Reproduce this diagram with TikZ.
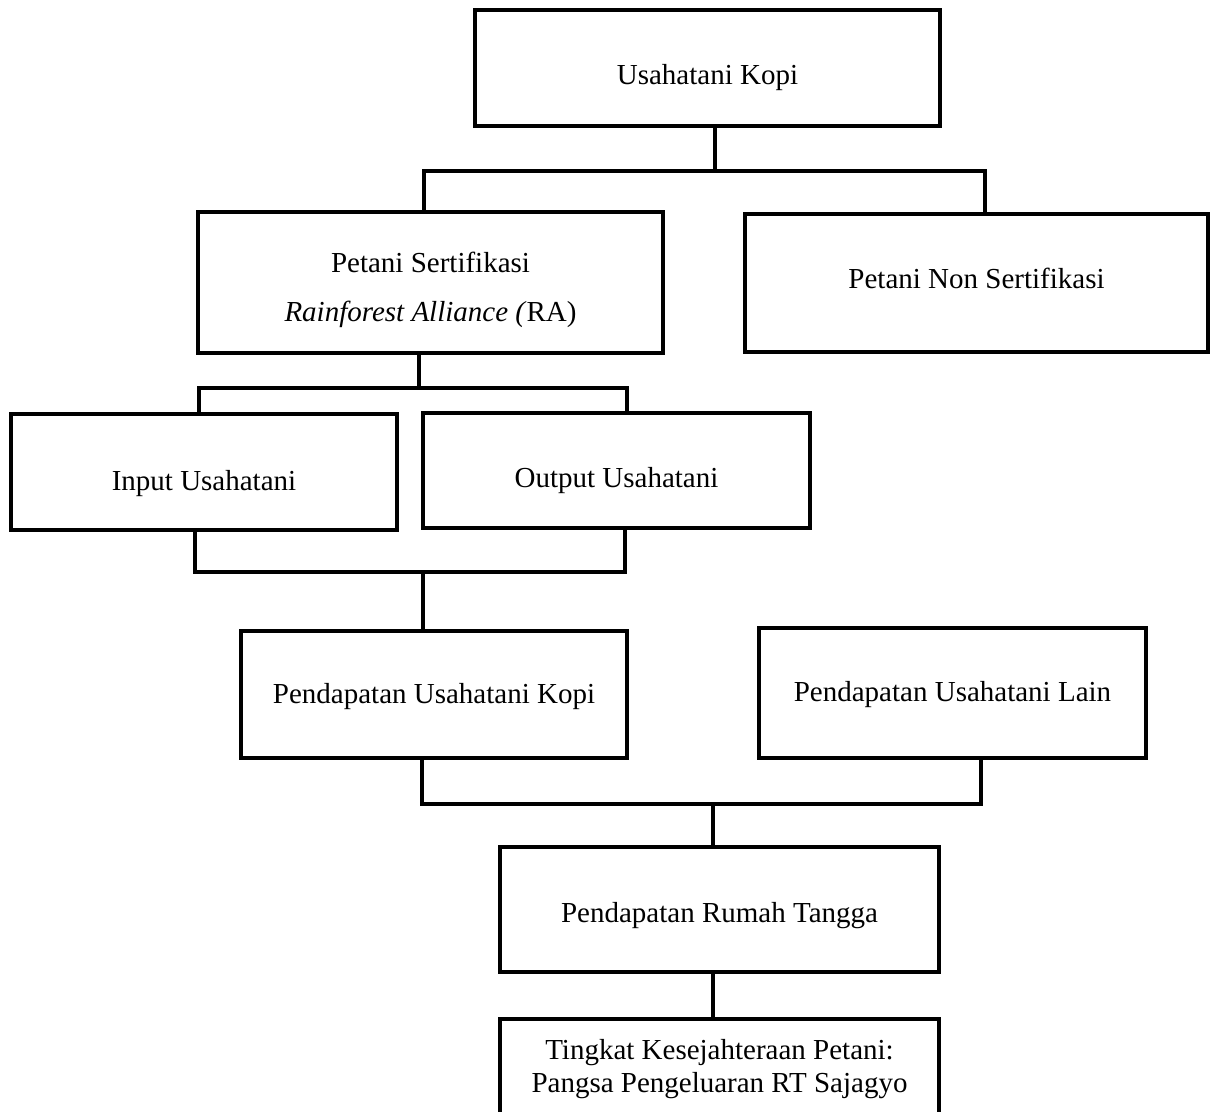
\documentclass[tikz,border=0pt]{standalone}
\usepackage{fontspec}
\setmainfont{Liberation Serif}
\newcommand\lowr[2]{\raisebox{-#1}[\height][\depth]{#2}}
\begin{document}
\begin{tikzpicture}[x=1pt,y=-1pt,
  boxnode/.style={draw=black,line width=3.2pt,rectangle,inner sep=0pt,outer sep=0pt,
    align=center,font=\fontsize{29}{34}\selectfont},
  link/.style={draw=black,line width=3.2pt,line cap=rect}]
\useasboundingbox (0,0) rectangle (1210,1111);
\clip (0,0) rectangle (1210,1111);
\node[boxnode,minimum width=465pt,minimum height=116pt] (b1) at (707.5,68) {\lowr{10pt}{Usahatani Kopi}};
\node[boxnode,minimum width=465pt,minimum height=141pt,font=\fontsize{29}{49}\selectfont] (b2) at (430.5,282.5) {\lowr{7pt}{Petani Sertifikasi}\\\lowr{7pt}{\textit{Rainforest Alliance (}RA)}};
\node[boxnode,minimum width=463pt,minimum height=138pt] (b3) at (976.5,283) {\lowr{-5pt}{Petani Non Sertifikasi}};
\node[boxnode,minimum width=386pt,minimum height=116pt] (b4) at (204,472) {\lowr{12pt}{Input Usahatani}};
\node[boxnode,minimum width=387pt,minimum height=115pt] (b5) at (616.5,470.5) {\lowr{10pt}{Output Usahatani}};
\node[boxnode,minimum width=386pt,minimum height=127pt] (b6) at (434,694.5) {\lowr{2pt}{Pendapatan Usahatani Kopi}};
\node[boxnode,minimum width=387pt,minimum height=130pt] (b7) at (952.5,693) {\lowr{2pt}{Pendapatan Usahatani Lain}};
\node[boxnode,minimum width=439pt,minimum height=125pt] (b8) at (719.5,909.5) {\lowr{6pt}{Pendapatan Rumah Tangga}};
\node[boxnode,minimum width=439pt,minimum height=106pt,font=\fontsize{29}{33}\selectfont] (b9) at (719.5,1072) {\lowr{-3pt}{Tingkat Kesejahteraan Petani:}\\\lowr{-3pt}{Pangsa Pengeluaran RT Sajagyo}};
% junctions
\coordinate (t1) at (715,171);
\coordinate (t1l) at (424,171);
\coordinate (t1r) at (985,171);
\coordinate (t2) at (419,388);
\coordinate (t2l) at (199,388);
\coordinate (t2r) at (627,388);
\coordinate (t3) at (423,572);
\coordinate (t3l) at (195,572);
\coordinate (t3r) at (625,572);
\coordinate (t4) at (713,804);
\coordinate (t4l) at (422,804);
\coordinate (t4r) at (981,804);
\coordinate (t5) at (713,990);
% connectors
\draw[link] (t1 |- b1.south) -- (t1);
\draw[link] (t1l |- b2.north) -- (t1l) -- (t1r) -- (t1r |- b3.north);
\draw[link] (t2 |- b2.south) -- (t2);
\draw[link] (t2l |- b4.north) -- (t2l) -- (t2r) -- (t2r |- b5.north);
\draw[link] (t3l |- b4.south) -- (t3l) -- (t3r) -- (t3r |- b5.south);
\draw[link] (t3) -- (t3 |- b6.north);
\draw[link] (t4l |- b6.south) -- (t4l) -- (t4r) -- (t4r |- b7.south);
\draw[link] (t4) -- (t4 |- b8.north);
\draw[link] (t5 |- b8.south) -- (t5 |- b9.north);
\end{tikzpicture}
\end{document}
